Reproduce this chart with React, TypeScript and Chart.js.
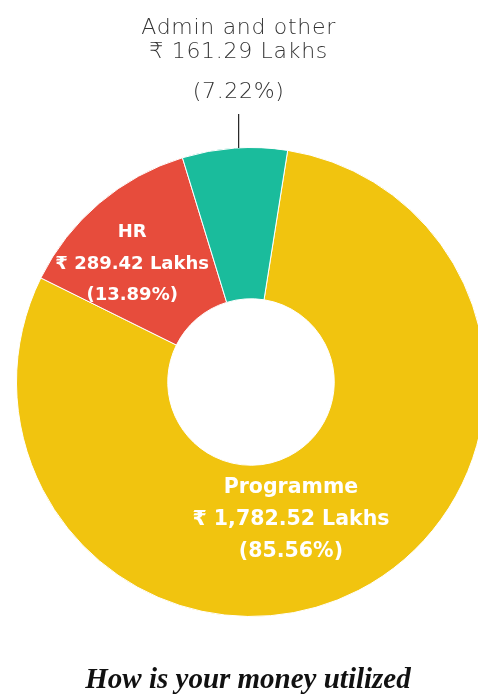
import React, { useEffect, useRef } from "react";
import { Chart, registerables } from "chart.js";

Chart.register(...registerables);

const categories = ["Programme", "HR", "Admin and other"];
const amounts = [1782.52, 289.42, 161.29];
const amountLabels = ["₹ 1,782.52 Lakhs", "₹ 289.42 Lakhs", "₹ 161.29 Lakhs"];
const percentLabels = ["(85.56%)", "(13.89%)", "(7.22%)"];
const colors = ["#F1C40F", "#E74C3C", "#1ABC9C"];
const titleText = "How is your money utilized";

const W = 502;
const H = 695;

const labelPlugin = {
  id: "sliceLabels",
  afterDatasetsDraw(chart: any) {
    const ctx = chart.ctx;
    const meta = chart.getDatasetMeta(0);
    ctx.save();
    ctx.textAlign = "center";
    ctx.textBaseline = "middle";

    // Programme
    const p = meta.data[0].getCenterPoint();
    ctx.fillStyle = "#ffffff";
    ctx.font = "bold 20.5px 'DejaVu Sans'";
    const px = p.x - 33;
    const py = p.y - 3;
    ctx.fillText(categories[0], px, py - 32);
    ctx.fillText(amountLabels[0], px, py);
    ctx.fillText(percentLabels[0], px, py + 32);

    // HR
    const h = meta.data[1].getCenterPoint();
    ctx.font = "bold 18px 'DejaVu Sans'";
    const hx = h.x - 16;
    const hy = h.y + 3;
    ctx.fillText(categories[1], hx, hy - 32);
    ctx.fillText(amountLabels[1], hx, hy);
    ctx.fillText(percentLabels[1], hx, hy + 31);

    // Admin (outside)
    const a = meta.data[2];
    const mid = (a.startAngle + a.endAngle) / 2;
    const ox = a.x + Math.cos(mid) * a.outerRadius;
    const oy = a.y + Math.sin(mid) * a.outerRadius;
    const lx = ox + 4;
    ctx.strokeStyle = "#222222";
    ctx.lineWidth = 1.2;
    ctx.beginPath();
    ctx.moveTo(lx, oy);
    ctx.lineTo(lx, oy - 34);
    ctx.stroke();
    ctx.fillStyle = "#333333";
    ctx.font = "200 22px 'DejaVu Sans'";
    (ctx as any).letterSpacing = "0.7px";
    ctx.fillText(categories[2], lx, 28);
    ctx.fillText(amountLabels[2], lx, 52);
    ctx.fillText(percentLabels[2], lx, 92);
    (ctx as any).letterSpacing = "0px";

    // Title
    ctx.fillStyle = "#111111";
    ctx.font = "italic bold 29px 'Liberation Serif', 'DejaVu Serif'";
    ctx.fillText(titleText, 248, 681);
    ctx.restore();
  },
};

export default function App() {
  const ref = useRef<HTMLCanvasElement>(null);
  useEffect(() => {
    if (!ref.current) return;
    const chart = new Chart(ref.current, {
      type: "doughnut",
      data: {
        labels: categories,
        datasets: [
          {
            data: amounts,
            backgroundColor: colors,
            borderColor: "#ffffff",
            borderWidth: 1,
            hoverOffset: 0,
          },
        ],
      },
      options: {
        responsive: false,
        animation: false,
        rotation: 9,
        cutout: "35.5%",
        layout: { padding: { top: 147, bottom: 78, left: 16, right: 16 } },
        plugins: { legend: { display: false }, tooltip: { enabled: false } },
      },
      plugins: [labelPlugin],
    });
    return () => chart.destroy();
  }, []);
  return (
    <div
      style={{
        position: "fixed",
        left: 0,
        top: 0,
        width: 478,
        height: 695,
        overflow: "hidden",
        background: "#ffffff",
      }}
    >
      <canvas ref={ref} width={W} height={H} style={{ width: W, height: H, display: "block" }} />
    </div>
  );
}
